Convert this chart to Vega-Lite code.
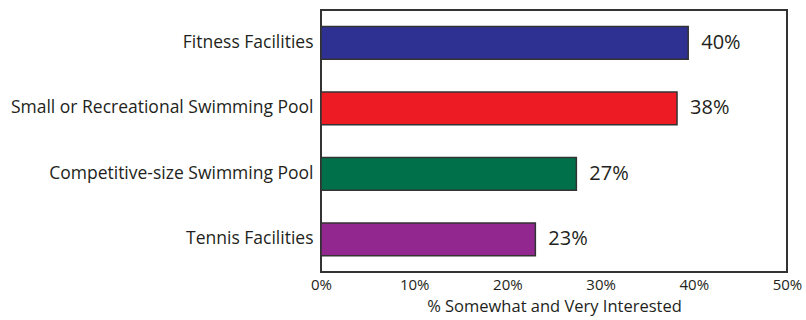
{
  "$schema": "https://vega.github.io/schema/vega-lite/v6.json",
  "width": 466,
  "height": 262,
  "autosize": "none",
  "padding": {"left": 321, "top": 10, "right": 19, "bottom": 48},
  "background": "white",
  "config": {
    "view": {"stroke": "#333333", "strokeWidth": 2},
    "font": "Open Sans"
  },
  "data": {
    "values": [
      {"category": "Fitness Facilities", "value": 0.394, "label": "40%"},
      {"category": "Small or Recreational Swimming Pool", "value": 0.382, "label": "38%"},
      {"category": "Competitive-size Swimming Pool", "value": 0.274, "label": "27%"},
      {"category": "Tennis Facilities", "value": 0.23, "label": "23%"}
    ]
  },
  "encoding": {
    "y": {
      "field": "category",
      "type": "nominal",
      "sort": null,
      "scale": {"paddingInner": 0.5, "paddingOuter": 0.25},
      "axis": {
        "title": null,
        "ticks": false,
        "domain": false,
        "labelFontSize": 17.5,
        "labelColor": "#231F20",
        "labelPadding": 8,
        "labelFont": "Open Sans",
        "labelLimit": 400
      }
    }
  },
  "layer": [
    {
      "mark": {"type": "bar", "stroke": "#333333", "strokeWidth": 1.5},
      "encoding": {
        "x": {
          "field": "value",
          "type": "quantitative",
          "scale": {"domain": [0, 0.5], "nice": false},
          "axis": {
            "format": ".0%",
            "values": [0, 0.1, 0.2, 0.3, 0.4, 0.5],
            "grid": false,
            "ticks": false,
            "domain": false,
            "labelFontSize": 15,
            "labelColor": "#231F20",
            "labelPadding": 5,
            "labelFlush": false,
            "title": "% Somewhat and Very Interested",
            "titleFontSize": 16.5,
            "titleFontWeight": "normal",
            "titleColor": "#231F20",
            "titlePadding": 6
          }
        },
        "color": {
          "field": "category",
          "type": "nominal",
          "scale": {
            "domain": ["Fitness Facilities", "Small or Recreational Swimming Pool", "Competitive-size Swimming Pool", "Tennis Facilities"],
            "range": ["#2E3192", "#ED1C24", "#00704A", "#92278F"]
          },
          "legend": null
        }
      }
    },
    {
      "mark": {"type": "text", "align": "left", "dx": 13, "fontSize": 20, "color": "#231F20", "font": "Open Sans"},
      "encoding": {
        "x": {"field": "value", "type": "quantitative"},
        "text": {"field": "label"}
      }
    }
  ]
}
